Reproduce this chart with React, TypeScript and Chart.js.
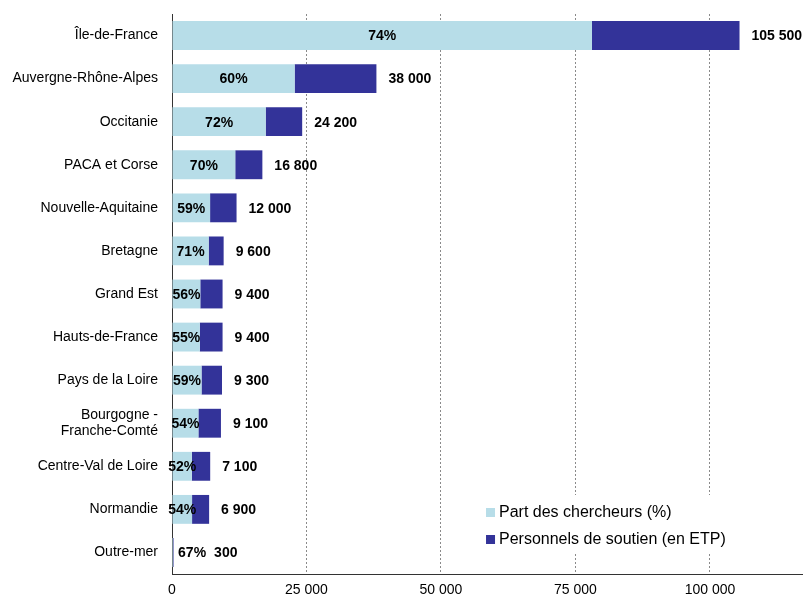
import { useEffect, useRef } from "react";
import { Chart, registerables } from "chart.js";

Chart.register(...registerables);

const regions: (string | string[])[] = [
  "Île-de-France",
  "Auvergne-Rhône-Alpes",
  "Occitanie",
  "PACA et Corse",
  "Nouvelle-Aquitaine",
  "Bretagne",
  "Grand Est",
  "Hauts-de-France",
  "Pays de la Loire",
  ["Bourgogne -", "Franche-Comté"],
  "Centre-Val de Loire",
  "Normandie",
  "Outre-mer",
];
const shareLabels = ["74%", "60%", "72%", "70%", "59%", "71%", "56%", "55%", "59%", "54%", "52%", "54%", "67%"];
const totalLabels = ["105 500", "38 000", "24 200", "16 800", "12 000", "9 600", "9 400", "9 400", "9 300", "9 100", "7 100", "6 900", "300"];
const researchers = [78070, 22800, 17420, 11760, 7080, 6820, 5260, 5170, 5490, 4910, 3690, 3730, 200];
const support = [27430, 15200, 6780, 5040, 4920, 2780, 4140, 4230, 3810, 4190, 3410, 3170, 100];
const xTicks = [0, 25000, 50000, 75000, 100000];
const xMax = 117300;
const legendLabels = ["Part des chercheurs (%)", "Personnels de soutien (en ETP)"];

const LIGHT = "#B7DDE8";
const DARK = "#333399";
const FONT = 'Arial, "Liberation Sans", sans-serif';

const fmt = (v: number) => String(v).replace(/\B(?=(\d{3})+(?!\d))/g, " ");

const labelsPlugin = {
  id: "barLabels",
  afterDatasetsDraw(chart: any) {
    const ctx = chart.ctx;
    const m0 = chart.getDatasetMeta(0);
    const m1 = chart.getDatasetMeta(1);
    ctx.save();
    ctx.font = `bold 14px ${FONT}`;
    ctx.fillStyle = "#000";
    ctx.textBaseline = "middle";
    m0.data.forEach((bar: any, i: number) => {
      const { x, y, base } = bar.getProps(["x", "y", "base"], true);
      const w = x - base;
      const txt = shareLabels[i];
      const tw = ctx.measureText(txt).width;
      const cx = w < 10 ? x + 5 + tw / 2 : (x + base) / 2;
      ctx.textAlign = "center";
      ctx.fillText(txt, cx, y + 1);
      const end = m1.data[i].getProps(["x"], true).x;
      const tx = Math.max(end + 12, cx + tw / 2 + 8);
      ctx.textAlign = "left";
      ctx.fillText(totalLabels[i], tx, y + 1);
    });
    ctx.restore();
  },
};

const legendPlugin = {
  id: "inLegend",
  afterDraw(chart: any) {
    const ctx = chart.ctx;
    const xs = chart.scales.x;
    const left = xs.getPixelForValue(57260);
    const top = chart.chartArea.bottom - 79;
    ctx.save();
    ctx.fillStyle = "#fff";
    ctx.fillRect(left, top, 270, 58);
    ctx.font = `16px ${FONT}`;
    ctx.textBaseline = "middle";
    ctx.textAlign = "left";
    const colors = [LIGHT, DARK];
    legendLabels.forEach((t, i) => {
      const cy = top + 17 + i * 27;
      ctx.fillStyle = colors[i];
      ctx.fillRect(left + 6, cy - 4, 9, 9);
      ctx.fillStyle = "#000";
      ctx.fillText(t, left + 19, cy + 1);
    });
    ctx.restore();
  },
};

export default function App() {
  const ref = useRef<HTMLCanvasElement>(null);
  useEffect(() => {
    document.body.style.margin = "0";
    const chart = new Chart(ref.current!, {
      type: "bar",
      data: {
        labels: regions as any,
        datasets: [
          { label: legendLabels[0], data: researchers, backgroundColor: LIGHT, borderWidth: 0 },
          { label: legendLabels[1], data: support, backgroundColor: DARK, borderWidth: 0 },
        ],
      },
      options: {
        indexAxis: "y",
        animation: false,
        responsive: true,
        maintainAspectRatio: false,
        layout: { padding: { top: 14, left: 0, right: 0, bottom: 0 } },
        datasets: { bar: { categoryPercentage: 1, barPercentage: 0.67 } },
        plugins: { legend: { display: false }, tooltip: { enabled: false } },
        scales: {
          x: {
            stacked: true,
            min: 0,
            max: xMax,
            afterBuildTicks: (s: any) => {
              s.ticks = xTicks.map((v) => ({ value: v }));
            },
            afterFit: (s: any) => {
              s.height = 24;
              s.paddingLeft = 0;
              s.paddingRight = 0;
            },
            ticks: {
              color: "#000",
              font: { family: FONT, size: 14 },
              padding: 8,
              callback: (v: any) => fmt(Number(v)),
            },
            grid: {
              drawTicks: false,
              lineWidth: 1,
              color: (c: any) => (c.tick && c.tick.value === 0 ? "rgba(0,0,0,0)" : "#8a8a8a"),
            },
            border: { display: true, color: "#333", width: 1, dash: [2, 2] },
          },
          y: {
            stacked: true,
            afterFit: (s: any) => {
              s.width = 172;
              s.paddingTop = 0;
              s.paddingBottom = 0;
            },
            ticks: {
              color: "#000",
              font: { family: FONT, size: 14 },
              padding: 14,
            },
            grid: { display: false, drawTicks: false },
            border: { display: true, color: "#333", width: 1 },
          },
        },
      },
      plugins: [labelsPlugin, legendPlugin],
    });
    return () => chart.destroy();
  }, []);
  return (
    <div style={{ width: 803, height: 598, position: "relative" }}>
      <canvas ref={ref} />
    </div>
  );
}
